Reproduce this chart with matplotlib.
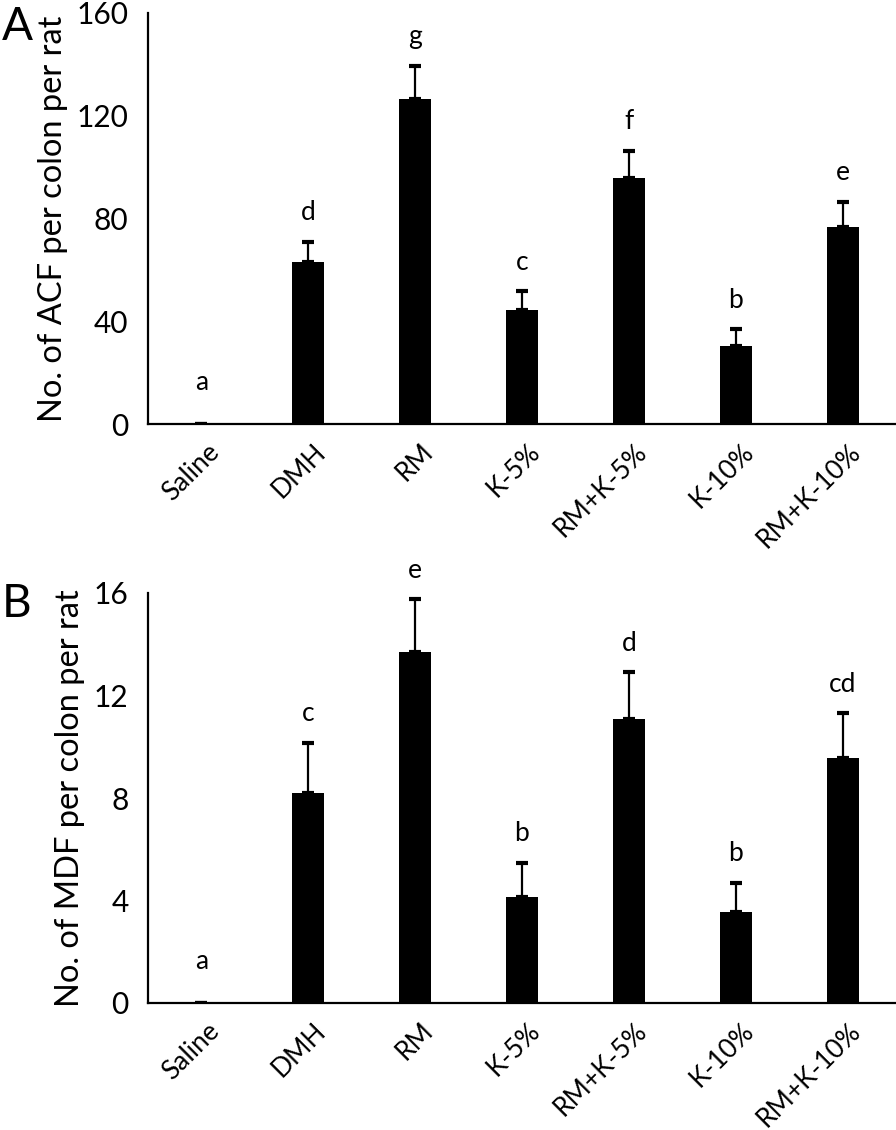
import numpy as np
import matplotlib
matplotlib.use("Agg")
import matplotlib.pyplot as plt
import matplotlib.transforms as mtransforms

plt.rcParams['font.family'] = ['Lato', 'DejaVu Sans']

groups = ["Saline", "DMH", "RM", "K-5%", "RM+K-5%", "K-10%", "RM+K-10%"]

acf_mean = [0, 63, 126.5, 44.4, 95.6, 30.5, 76.6]
acf_err = [0, 8, 13, 7.2, 10.7, 6.4, 9.8]
acf_letters = ["a", "d", "g", "c", "f", "b", "e"]

mdf_mean = [0, 8.2, 13.7, 4.15, 11.1, 3.57, 9.57]
mdf_err = [0, 1.95, 2.05, 1.33, 1.81, 1.13, 1.73]
mdf_letters = ["a", "c", "e", "b", "d", "b", "cd"]

fig = plt.figure(figsize=(8.96, 11.3), dpi=100)
axA = fig.add_axes([148 / 896, 1 - 424 / 1130, 1 - 148 / 896, 411 / 1130])
axB = fig.add_axes([148 / 896, 1 - 1003 / 1130, 1 - 148 / 896, 410 / 1130])


def draw_panel(ax, means, errs, letters, ymax, ylabel):
    x = np.arange(len(groups))
    ax.bar(x, means, width=0.3, color="black", zorder=2)
    ax.errorbar(x, means, yerr=[np.zeros(len(errs)), errs], fmt="none",
                ecolor="black", elinewidth=1.6, capsize=4, capthick=3, zorder=3)
    for xi, m, e, lab in zip(x, means, errs, letters):
        off = 21 if m == 0 else 12
        ax.annotate(lab, (xi, m + e), xytext=(0, off), textcoords="offset points",
                    ha="center", va="bottom", fontsize=19)
    ax.set_xlim(-0.5, 6.5)
    ax.set_ylim(0, ymax)
    ax.set_yticks(np.linspace(0, ymax, 5))
    ax.set_xticks(x)
    ax.set_xticklabels(groups, rotation=45, ha="right", va="top",
                       rotation_mode="anchor")
    ax.tick_params(axis="y", length=0, labelsize=21.5, pad=14)
    ax.tick_params(axis="x", length=0, labelsize=19, pad=11)
    shift = mtransforms.ScaledTranslation(5 / 100, 0, fig.dpi_scale_trans)
    for lbl in ax.get_xticklabels():
        lbl.set_transform(lbl.get_transform() + shift)
    for s in ["top", "right"]:
        ax.spines[s].set_visible(False)
    for s in ["left", "bottom"]:
        ax.spines[s].set_linewidth(1.6)
    ax.set_ylabel(ylabel, fontsize=23.5, labelpad=6)


draw_panel(axA, acf_mean, acf_err, acf_letters, 160,
           "No. of ACF per colon per rat")
draw_panel(axB, mdf_mean, mdf_err, mdf_letters, 16,
           "No. of MDF per colon per rat")

fig.text(2 / 896, 1 - 6 / 1130, "A", fontsize=33, ha="left", va="top")
fig.text(2 / 896, 1 - 583 / 1130, "B", fontsize=33, ha="left", va="top")

fig.savefig("out.png", dpi=100)
